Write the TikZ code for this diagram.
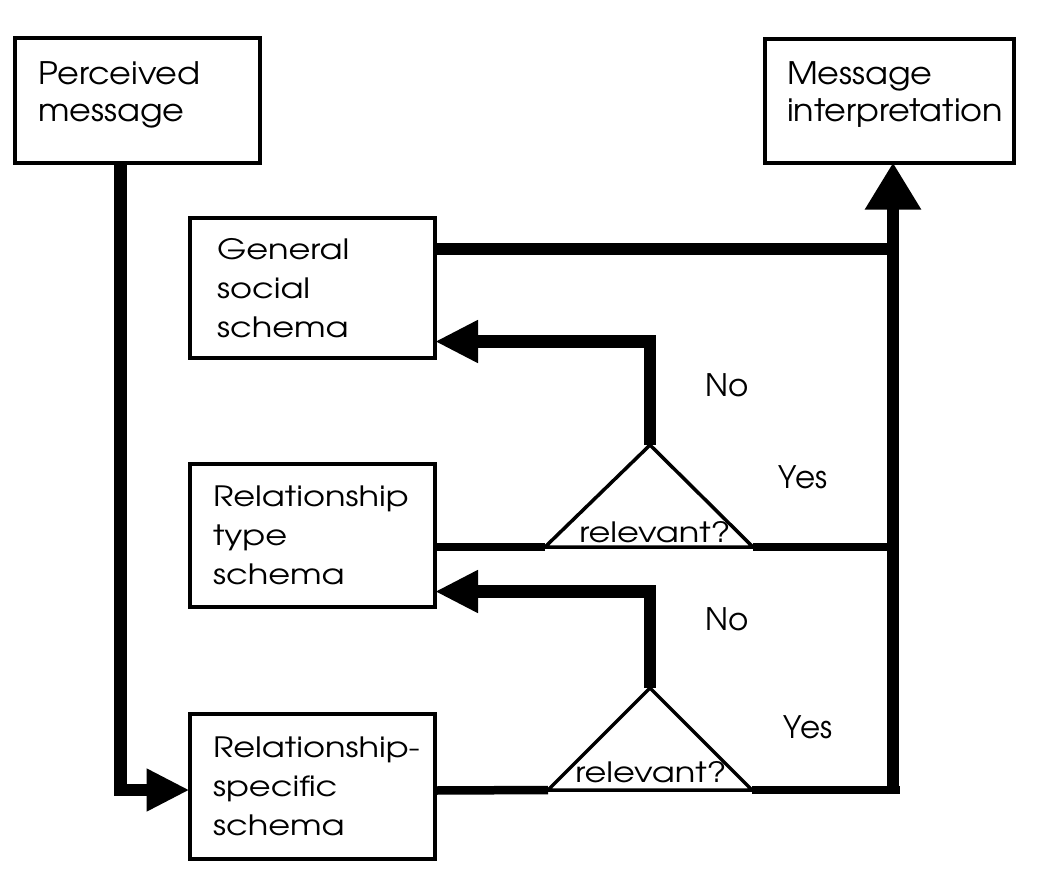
\documentclass[tikz,border=0pt]{standalone}
\usepackage{fontspec}
\setmainfont{TeX Gyre Adventor}
\newfontfamily\topfont[FakeStretch=1.08]{TeX Gyre Adventor}
\newfontfamily\boxfont[FakeStretch=1.2]{TeX Gyre Adventor}
\newfontfamily\relfont[FakeStretch=1.2]{TeX Gyre Adventor}
\hyphenpenalty=10000
\exhyphenpenalty=10000
\usetikzlibrary{arrows.meta}

\begin{document}
\begin{tikzpicture}[x=1pt, y=-1pt,
	box/.style={draw, line width=4pt, outer sep=0pt, inner ysep=0pt, align=left, anchor=north west},
	bigtext/.style={font=\topfont\fontsize{31}{37}\selectfont, text depth=54pt},
	smalltext/.style={font=\boxfont\fontsize{28}{39}\selectfont},
	fat/.style={line width=12.5pt},
	mid/.style={line width=8.5pt},
	tri/.style={line width=3.5pt, line join=miter},
	lefttip/.style={-{Triangle[length=43pt, width=40pt]}},
	uptip/.style={-{Triangle[length=47pt, width=53pt]}},
	lbl/.style={anchor=base, inner sep=0pt, font=\fontsize{31}{37}\selectfont}]
	\useasboundingbox (0,0) rectangle (1042,879);

	\node[box, bigtext, inner xsep=23pt, text width=198.5pt, minimum height=125pt] (perc) at (15,37.5) {Perceived\\message};
	\node[box, bigtext, inner xsep=22pt, text width=205pt, minimum height=124pt] (interp) at (765,38.5) {Message\\interpretation};
	\node[box, smalltext, inner xsep=27.5pt, text width=190.5pt, minimum height=140pt] (gen) at (189.5,218) {General\\social\\schema};
	\node[box, smalltext, inner xsep=23.5pt, text width=198.5pt, minimum height=143.5pt] (type) at (189.5,463.5) {Relationship\\type\\schema};
	\node[box, smalltext, inner xsep=23.5pt, text width=198.5pt, minimum height=145pt] (spec) at (189.5,714) {Relationship-\\specific\\schema};

	\coordinate (ta) at (650,445);
	\coordinate (tl) at (545,547);
	\coordinate (tr) at (753,547);
	\coordinate (ba) at (650,688);
	\coordinate (bl) at (548,790);
	\coordinate (br) at (752,790);
	\coordinate (jn) at (893,794);

	\draw[tri] (ta) -- (tr) -- (tl) -- cycle;
	\draw[tri] (ba) -- (br) -- (bl) -- cycle;
	\node[lbl, font=\relfont\fontsize{28}{34}\selectfont] (rel1) at (655,542) {relevant?};
	\node[lbl, font=\relfont\fontsize{28}{34}\selectfont] (rel2) at (651,782) {relevant?};

	\draw[fat, lefttip] ([xshift=-16.75pt]perc.south) |- ([yshift=-3.5pt]spec.west);
	\draw[fat] ([yshift=39pt]gen.east) -- ([yshift=39pt]gen.east -| jn);
	\draw[fat, uptip] (jn) -- ([xshift=3.5pt]interp.south);
	\draw[mid] ([yshift=-11.75pt]type.east) -- (tl);
	\draw[mid] (tr) -- (tr -| jn);
	\draw[mid] ([yshift=-4pt]spec.east) -- (bl);
	\draw[mid] (br) -- ([xshift=6.5pt]br -| jn);
	\draw[fat, lefttip] (ta) |- ([yshift=-53.5pt]gen.east);
	\draw[fat, lefttip] (ba) |- ([yshift=-56.25pt]type.east);

	\node[lbl] (no1) at (727,396) {No};
	\node[lbl] (yes1) at (803,488) {Yes};
	\node[lbl] (no2) at (727,630) {No};
	\node[lbl] (yes2) at (808,738) {Yes};
\end{tikzpicture}
\end{document}
